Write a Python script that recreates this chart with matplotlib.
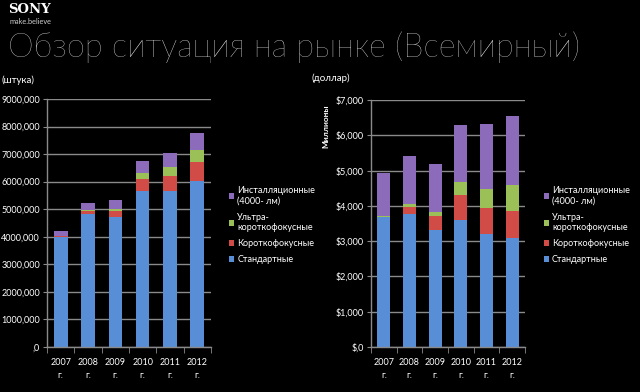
import numpy as np
import matplotlib
matplotlib.use("Agg")
import matplotlib.pyplot as plt
from matplotlib.patches import Patch

plt.rcParams['font.family'] = ['Lato', 'DejaVu Sans']

years = ['2007\nг.', '2008\nг.', '2009\nг.', '2010\nг.', '2011\nг.', '2012\nг.']
series_names = ['Стандартные', 'Короткофокусные', 'Ультра-\nкороткофокусные',
                'Инсталляционные\n(4000- лм)']
colors = ['#578ed6', '#d14c47', '#9bc058', '#8c6cba']

# штуки (тыс.)
units_std = [3990, 4840, 4720, 5660, 5650, 6010]
units_short = [30, 100, 220, 430, 540, 720]
units_ultra = [0, 30, 80, 230, 340, 430]
units_inst = [180, 270, 320, 420, 520, 610]
units_ticks = [0, 1000, 2000, 3000, 4000, 5000, 6000, 7000, 8000, 9000]
units_ticklabels = [',0', '1000,000', '2000,000', '3000,000', '4000,000', '5000,000',
                    '6000,000', '7000,000', '8000,000', '9000,000']

# доллары (млн)
usd_std = [3680, 3770, 3320, 3600, 3210, 3090]
usd_short = [0, 210, 400, 710, 730, 770]
usd_ultra = [40, 60, 110, 360, 540, 720]
usd_inst = [1200, 1360, 1350, 1630, 1840, 1960]
usd_ticks = [0, 1000, 2000, 3000, 4000, 5000, 6000, 7000]
usd_ticklabels = ['$,0', '$1,000', '$2,000', '$3,000', '$4,000', '$5,000', '$6,000', '$7,000']

fig = plt.figure(figsize=(6.4, 3.92), dpi=100, facecolor='black')

# Заголовок и логотип
fig.text(8 / 640, 1 - 9.5 / 392, 'SONY', color='white', fontsize=9.5, fontweight='bold',
         family='DejaVu Serif', va='center', ha='left')
fig.text(10 / 640, 1 - 21 / 392, 'make.believe', color='#cfcfcf', fontsize=5.3,
         va='center', ha='left')
fig.text(8 / 640, 1 - 47 / 392, 'Обзор ситуация на рынке (Всемирный)', color='white',
         fontsize=23.5, fontweight='light', va='center', ha='left')


def draw_panel(ax, stacks, ticks, ticklabels, ymax):
    ax.set_facecolor('black')
    x = np.arange(len(years))
    bottom = np.zeros(len(years))
    for vals, c in zip(stacks, colors):
        ax.bar(x, vals, width=0.5, bottom=bottom, color=c, zorder=3)
        bottom = bottom + np.array(vals)
    ax.set_xlim(-0.5, len(years) - 0.5)
    ax.set_ylim(0, ymax)
    ax.set_yticks(ticks)
    ax.set_yticklabels(ticklabels)
    ax.set_xticks(x)
    ax.set_xticklabels(years, linespacing=1.5)
    ax.set_xticks(np.arange(-0.5, len(years)), minor=True)
    ax.tick_params(axis='x', which='major', length=0, colors='white', labelsize=6.5, pad=8)
    ax.tick_params(axis='x', which='minor', length=4, color='#8a8a8a', direction='out')
    ax.tick_params(axis='y', length=3, color='#8a8a8a', colors='white', labelsize=6.5, pad=2)
    ax.yaxis.grid(True, color='#8a8a8a', linewidth=1)
    for s in ['top', 'right']:
        ax.spines[s].set_visible(False)
    for s in ['left', 'bottom']:
        ax.spines[s].set_color('#8a8a8a')
        ax.spines[s].set_linewidth(1)
        ax.spines[s].set_zorder(4)


def draw_legend(x, y):
    handles = [Patch(facecolor=c) for c in colors[::-1]]
    fig.legend(handles, series_names[::-1], loc='upper left', bbox_to_anchor=(x, y),
               frameon=False, fontsize=6.5, labelcolor='white', handlelength=0.6,
               handleheight=0.6, handletextpad=0.3, labelspacing=0.8,
               borderaxespad=0, borderpad=0)


ax1 = fig.add_axes([47 / 640, 45 / 392, 164 / 640, 248 / 392])
draw_panel(ax1, [units_std, units_short, units_ultra, units_inst],
           units_ticks, units_ticklabels, 9000)
fig.text(1 / 640, 1 - 80 / 392, '(штука)', color='white', fontsize=7, va='center', ha='left')
draw_legend(229 / 640, 1 - 186 / 392)

ax2 = fig.add_axes([371 / 640, 45 / 392, 154 / 640, 247 / 392])
draw_panel(ax2, [usd_std, usd_short, usd_ultra, usd_inst],
           usd_ticks, usd_ticklabels, 7000)
fig.text(312 / 640, 1 - 78 / 392, '(доллар)', color='white', fontsize=7, va='center', ha='left')
fig.text(326 / 640, 1 - 126 / 392, 'Миллионы', color='white', fontsize=6, fontweight='bold',
         rotation=90, va='center', ha='center')
draw_legend(544 / 640, 1 - 186 / 392)

fig.savefig('out.png', dpi=100, facecolor='black')
